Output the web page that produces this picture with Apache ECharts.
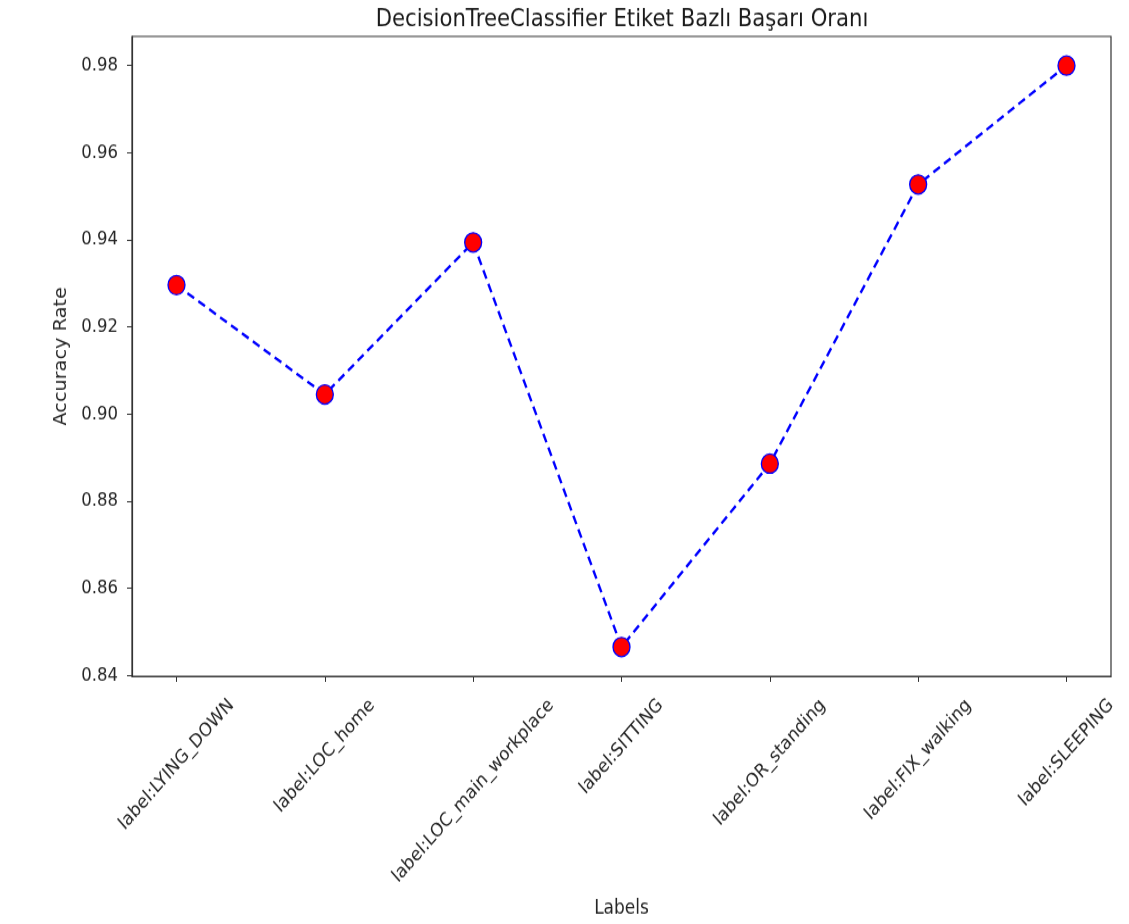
<!DOCTYPE html>
<html>
<head>
<meta charset="utf-8">
<script src="https://cdn.jsdelivr.net/npm/echarts@6/dist/echarts.min.js"></script>
<style>
html,body{margin:0;padding:0;background:#fff;overflow:hidden;}
#wrap{width:1129px;height:924px;overflow:hidden;}
/* the reference figure is stretched vertically (~1.1365x); reproduce that */
#chart{width:1129px;height:813px;transform:scaleY(1.1365);transform-origin:0 0;}
</style>
</head>
<body>
<div id="wrap"><div id="chart"></div></div>
<script>
const categories = ['label:LYING_DOWN','label:LOC_home','label:LOC_main_workplace','label:SITTING','label:OR_standing','label:FIX_walking','label:SLEEPING'];
const accuracy = [0.9296, 0.9045, 0.9394, 0.8465, 0.8886, 0.9527, 0.9800];
const yTicks = [0.84, 0.86, 0.88, 0.90, 0.92, 0.94, 0.96, 0.98];
const titleText = 'DecisionTreeClassifier Etiket Bazlı Başarı Oranı';
const xName = 'Labels';
const yName = 'Accuracy Rate';

const FONT = '"DejaVu Sans", sans-serif';
const LABEL_SIZE = 16.5;
const TEXT_COLOR = '#262626';
const AXIS_COLOR = '#333333';

const ctx = document.createElement('canvas').getContext('2d');
ctx.font = LABEL_SIZE + 'px ' + FONT;
const rich = {};
categories.forEach((c, i) => {
  const w = ctx.measureText(c).width;
  rich['c' + i] = {
    fontFamily: FONT, fontSize: LABEL_SIZE, color: TEXT_COLOR,
    padding: [w / 2, w / 2, 0, 0]
  };
});

const seriesData = accuracy.map((v, i) => [i, v]);
const xIdx = categories.map((c, i) => i);

const chart = echarts.init(document.getElementById('chart'), null, {renderer: 'canvas'});
chart.setOption({
  animation: false,
  backgroundColor: '#ffffff',
  title: {
    text: titleText, left: 617, textAlign: 'center', top: 2,
    textStyle: {fontFamily: FONT, fontSize: 21.2, fontWeight: 'normal', color: '#1a1a1a'}
  },
  grid: {left: 132, right: 18, top: 32, bottom: 117, show: true, borderColor: AXIS_COLOR, borderWidth: 1.2, backgroundColor: 'transparent'},
  xAxis: {
    type: 'value', min: -0.3, max: 6.3,
    name: xName, nameLocation: 'middle', nameGap: 196,
    nameTextStyle: {fontFamily: FONT, fontSize: 17, color: TEXT_COLOR},
    axisLine: {show: true, onZero: false, lineStyle: {color: AXIS_COLOR, width: 1.2}},
    axisTick: {show: true, inside: false, length: 5, lineStyle: {color: AXIS_COLOR}, customValues: xIdx},
    splitLine: {show: false},
    axisLabel: {
      customValues: xIdx,
      rotate: 45, align: 'center', verticalAlign: 'middle', margin: 23,
      formatter: v => '{c' + v + '|' + categories[v] + '}',
      rich: rich
    }
  },
  yAxis: {
    type: 'value', min: 0.8398, max: 0.9867,
    name: yName, nameLocation: 'middle', nameGap: 62,
    nameTextStyle: {fontFamily: FONT, fontSize: 17, color: TEXT_COLOR},
    axisLine: {show: true, onZero: false, lineStyle: {color: AXIS_COLOR, width: 1.2}},
    axisTick: {show: true, inside: false, length: 5, lineStyle: {color: AXIS_COLOR}, customValues: yTicks},
    splitLine: {show: false},
    axisLabel: {
      customValues: yTicks, margin: 14,
      fontFamily: FONT, fontSize: LABEL_SIZE, color: TEXT_COLOR,
      formatter: v => v.toFixed(2)
    }
  },
  series: [{
    type: 'line',
    data: seriesData,
    symbol: 'circle', symbolSize: 17,
    lineStyle: {color: '#0000ff', width: 2.4, type: [8, 5]},
    itemStyle: {color: '#ff0000', borderColor: '#0000ff', borderWidth: 1.3},
    z: 3
  }]
});
</script>
</body>
</html>
